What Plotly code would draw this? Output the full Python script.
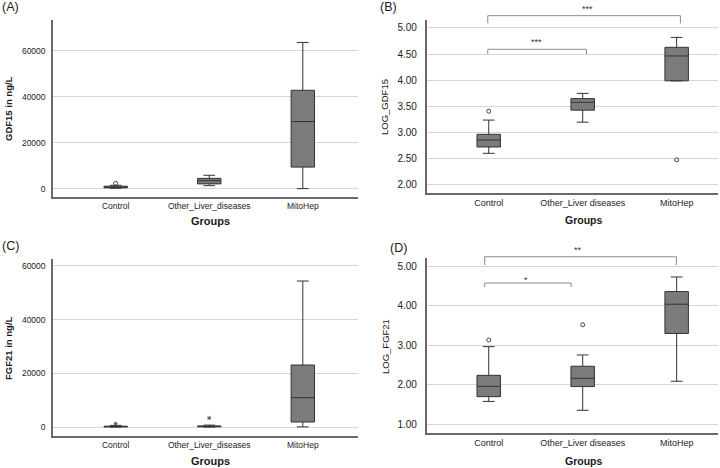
import plotly.graph_objects as go

# ---------------- data ----------------
groups_ac = ["Control", "Other_Liver_diseases", "MitoHep"]
groups_bd = ["Control", "Other_Liver diseases", "MitoHep"]

# Panel A: GDF15 in ng/L
a_lower = [300, 1430, 150]
a_q1 = [500, 2200, 9500]
a_median = [800, 3600, 29300]
a_q3 = [1200, 4600, 42900]
a_upper = [1600, 5950, 63700]
a_out_x = ["Control"]
a_out_y = [2450]

# Panel B: LOG_GDF15
b_lower = [2.605, 3.20, 3.99]
b_q1 = [2.726, 3.43, 3.99]
b_median = [2.86, 3.58, 4.465]
b_q3 = [2.968, 3.65, 4.63]
b_upper = [3.24, 3.75, 4.82]
b_out_x = ["Control", "MitoHep"]
b_out_y = [3.41, 2.48]

# Panel C: FGF21 in ng/L
c_lower = [0, 0, 50]
c_q1 = [50, 80, 1860]
c_median = [150, 200, 10930]
c_q3 = [300, 400, 23100]
c_upper = [600, 700, 54400]
c_ext_x = ["Control", "Other_Liver_diseases"]
c_ext_y = [1230, 3350]

# Panel D: LOG_FGF21
d_lower = [1.58, 1.355, 2.09]
d_q1 = [1.70, 1.955, 3.30]
d_median = [1.962, 2.165, 4.04]
d_q3 = [2.24, 2.47, 4.36]
d_upper = [2.966, 2.755, 4.73]
d_out_x = ["Control", "Other_Liver diseases"]
d_out_y = [3.135, 3.52]

# significance comparisons (from category, to category, label)
b_comparisons = [(0, 1, "***"), (0, 2, "***")]
d_comparisons = [(0, 1, "*"), (0, 2, "**")]

# ---------------- style ----------------
FONT = "Liberation Sans, Arial, sans-serif"
BOX_FILL = "#7b7b7b"
BOX_LINE = "#333333"
AXIS_LINE = "#6a6a6a"
GRID = "#d6d6d6"
BRACKET = "#8a8a8a"

fig = go.Figure()


def add_box(xa, ya, cats, lo, q1, med, q3, up):
    fig.add_trace(go.Box(
        x=cats, lowerfence=lo, q1=q1, median=med, q3=q3, upperfence=up,
        xaxis=xa, yaxis=ya, width=0.25, whiskerwidth=0.5,
        fillcolor=BOX_FILL, line=dict(color=BOX_LINE, width=1),
        boxpoints=False, showlegend=False, hoverinfo="skip"))


def add_points(xa, ya, xs, ys, symbol, size, lw=1):
    fig.add_trace(go.Scatter(
        x=xs, y=ys, xaxis=xa, yaxis=ya, mode="markers",
        marker=dict(symbol=symbol, size=size, color="#444444",
                    line=dict(color="#444444", width=lw)),
        showlegend=False, hoverinfo="skip"))


add_box("x", "y", groups_ac, a_lower, a_q1, a_median, a_q3, a_upper)
add_points("x", "y", a_out_x, a_out_y, "circle-open", 4)

add_box("x2", "y2", groups_bd, b_lower, b_q1, b_median, b_q3, b_upper)
add_points("x2", "y2", b_out_x, b_out_y, "circle-open", 4)

add_box("x3", "y3", groups_ac, c_lower, c_q1, c_median, c_q3, c_upper)
add_points("x3", "y3", c_ext_x, c_ext_y, "asterisk-open", 3.5, 0.8)

add_box("x4", "y4", groups_bd, d_lower, d_q1, d_median, d_q3, d_upper)
add_points("x4", "y4", d_out_x, d_out_y, "circle-open", 4)

W, H = 720, 468


def px_x(p):
    return p / W


def px_y(p):
    return 1 - p / H


def xaxis(dom, rng, cats, size):
    return dict(domain=dom, range=rng, type="category",
                categoryorder="array", categoryarray=cats,
                showline=True, linecolor=AXIS_LINE, linewidth=1.5,
                ticks="", showgrid=False, zeroline=False,
                tickfont=dict(family=FONT, size=size, color="#222222"))


def yaxis(dom, rng, vals, fmt, size, standoff, anchor):
    return dict(domain=dom, range=rng, tickvals=vals, tickformat=fmt,
                showline=True, linecolor=AXIS_LINE, linewidth=1.5,
                ticks="", showgrid=True, gridcolor=GRID, gridwidth=1,
                zeroline=False, anchor=anchor, ticklabelstandoff=standoff,
                tickfont=dict(family=FONT, size=size, color="#222222"))


left_dom = [px_x(53), px_x(358)]
right_dom = [px_x(426.7), px_x(718)]

fig.update_layout(
    width=W, height=H, margin=dict(l=0, r=0, t=0, b=0),
    paper_bgcolor="white", plot_bgcolor="white",
    font=dict(family=FONT, color="#222222"),
    xaxis=xaxis(left_dom, [-0.67, 2.59], groups_ac, 8.5) | dict(anchor="y"),
    yaxis=yaxis([px_y(197), px_y(20)], [-3500, 73460],
                [0, 20000, 40000, 60000], "d", 8.5, 4, "x"),
    xaxis2=xaxis(right_dom, [-0.66, 2.44], groups_bd, 9) | dict(anchor="y2"),
    yaxis2=yaxis([px_y(193), px_y(20)], [1.847, 5.152],
                 [2.0, 2.5, 3.0, 3.5, 4.0, 4.5, 5.0], ".2f", 10, 6, "x2"),
    xaxis3=xaxis(left_dom, [-0.67, 2.59], groups_ac, 8.5) | dict(anchor="y3"),
    yaxis3=yaxis([px_y(436), px_y(259)], [-3354, 62606],
                 [0, 20000, 40000, 60000], "d", 8.5, 4, "x3"),
    xaxis4=xaxis(right_dom, [-0.66, 2.44], groups_bd, 9) | dict(anchor="y4"),
    yaxis4=yaxis([px_y(433), px_y(258)], [0.78, 5.21],
                 [1.0, 2.0, 3.0, 4.0, 5.0], ".2f", 10, 6, "x4"),
)


# significance brackets (outside-top parts are clipped only horizontally)
def add_brackets(xa, ya, comps, specs):
    for (a, b, label), (ytop, yleg, ystar, xa_off, xb_off, star_x) in zip(comps, specs):
        xs0 = a + xa_off
        xs1 = b + xb_off
        for x0, y0, x1, y1 in [(xs0, ytop, xs1, ytop), (xs0, yleg, xs0, ytop),
                               (xs1, yleg, xs1, ytop)]:
            fig.add_shape(type="line", xref=xa, yref=ya + " domain",
                          x0=x0, x1=x1, y0=y0, y1=y1,
                          line=dict(color=BRACKET, width=1))
        fig.add_annotation(x=star_x, y=ystar, xref=xa, yref=ya + " domain",
                           text=label, showarrow=False,
                           xanchor="center", yanchor="middle",
                           font=dict(family=FONT, size=9, color="#333333"))


add_brackets("x2", "y2", b_comparisons,
             [(0.8306, 0.803, 0.875, -0.01, 0.04, 0.507),
              (1.025, 0.981, 1.064, -0.01, 0.04, 1.05)])
add_brackets("x4", "y4", d_comparisons,
             [(0.857, 0.834, 0.875, -0.043, -0.123, 0.40),
              (1.007, 0.96, 1.045, -0.043, -0.003, 0.95)])


# axis titles & panel letters
def ann(text, x, y, size, bold=False, angle=0):
    fig.add_annotation(x=px_x(x), y=px_y(y), xref="paper", yref="paper",
                       text=f"<b>{text}</b>" if bold else text,
                       textangle=angle, showarrow=False,
                       xanchor="center", yanchor="middle",
                       font=dict(family=FONT, size=size, color="#1a1a1a"))


ann("GDF15 in ng/L", 8, 109, 9.5, bold=True, angle=-90)
ann("FGF21 in ng/L", 8, 348, 9.5, bold=True, angle=-90)
ann("LOG_GDF15", 385, 107, 9.5, angle=-90)
ann("LOG_FGF21", 385, 347, 9.5, angle=-90)
ann("Groups", 210, 220.7, 11, bold=True)
ann("Groups", 210, 460.7, 11, bold=True)
ann("Groups", 583, 220, 10.5, bold=True)
ann("Groups", 583, 460.7, 10.5, bold=True)
ann("(A)", 10, 7, 12.5)
ann("(B)", 388, 7, 12.5)
ann("(C)", 10, 246, 12.5)
ann("(D)", 398, 248, 12.5)

fig.write_html("out.html",
               config={"displayModeBar": False},
               post_script="document.body.style.margin='0';"
                           "document.body.style.overflow='hidden';")
